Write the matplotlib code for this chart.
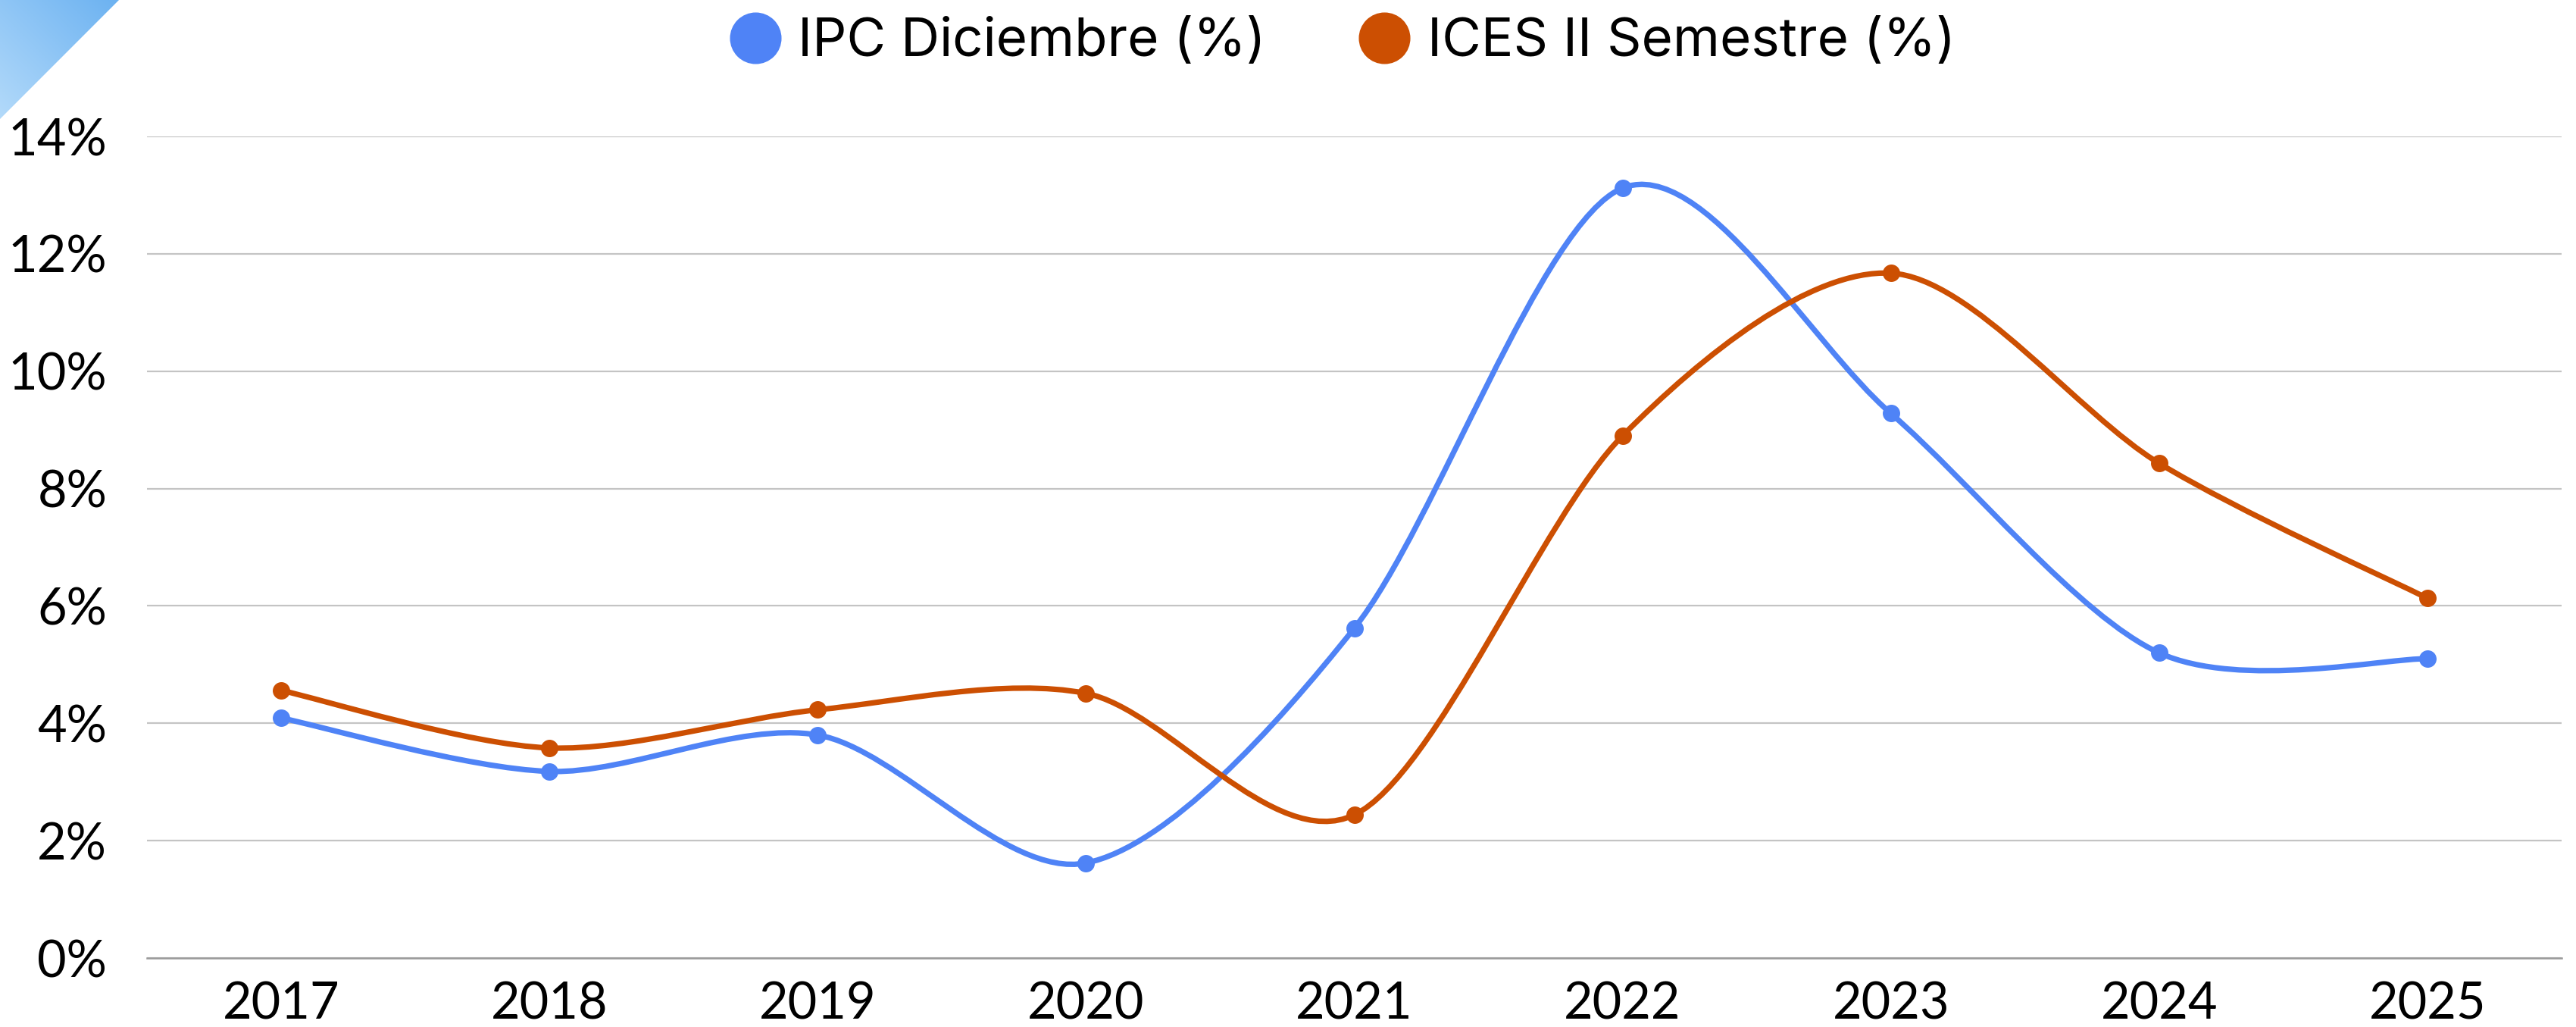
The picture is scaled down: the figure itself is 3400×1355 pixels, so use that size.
import numpy as np
import matplotlib.pyplot as plt
from matplotlib.path import Path
from matplotlib.patches import PathPatch, Polygon
from matplotlib.lines import Line2D

plt.rcParams['font.family'] = ['Lato', 'DejaVu Sans']

# data
years = ["2017", "2018", "2019", "2020", "2021", "2022", "2023", "2024", "2025"]
ipc = [4.09, 3.18, 3.80, 1.62, 5.62, 13.12, 9.28, 5.20, 5.10]
ices = [4.56, 3.58, 4.23, 4.51, 2.44, 8.90, 11.67, 8.43, 6.13]

labels = ["IPC Diciembre (%)", "ICES II Semestre (%)"]
colors = ["#4F83F6", "#CC4F02"]

yticks = [0, 2, 4, 6, 8, 10, 12, 14]


def smooth_path(x, y, k=0.15):
    # Catmull-Rom style cubic bezier through every point
    pts = np.column_stack([x, y]).astype(float)
    ext = np.vstack([pts[0], pts, pts[-1]])
    verts = [pts[0]]
    codes = [Path.MOVETO]
    for i in range(len(pts) - 1):
        p0, p1, p2, p3 = ext[i], ext[i + 1], ext[i + 2], ext[i + 3]
        c1 = p1 + (p2 - p0) * k
        c2 = p2 - (p3 - p1) * k
        verts += [c1, c2, p2]
        codes += [Path.CURVE4] * 3
    return Path(verts, codes)


fig = plt.figure(figsize=(34, 13.55), dpi=100)
ax = fig.add_axes([194 / 3400, 1 - 1264 / 1355, (3381 - 194) / 3400, (1264 - 180) / 1355])

x = np.arange(len(years))
for vals, col in zip([ipc, ices], colors):
    ax.add_patch(PathPatch(smooth_path(x, vals), facecolor="none", edgecolor=col,
                           lw=5.2, capstyle="round", joinstyle="round", zorder=3))
    ax.plot(x, vals, "o", color=col, markersize=15.5, zorder=4)

ax.set_xlim(-0.5, len(years) - 0.5)
ax.set_ylim(0, 14)
ax.set_xticks(x)
ax.set_xticklabels(years)
ax.set_yticks(yticks)
ax.set_yticklabels([f"{v}%" for v in yticks])
ax.tick_params(axis="both", length=0, labelsize=48, colors="black")
ax.tick_params(axis="y", pad=38)
ax.tick_params(axis="x", pad=22)
ax.grid(axis="y", color="#c4c4c4", lw=1.6)
ax.set_axisbelow(True)
for s in ["top", "right", "left"]:
    ax.spines[s].set_visible(False)
ax.spines["bottom"].set_color("#9a9a9a")
ax.spines["bottom"].set_linewidth(1.8)

handles = [Line2D([], [], ls="none", marker="o", markersize=48, color=c) for c in colors]
fig.legend(handles, labels, loc="center", bbox_to_anchor=(1771 / 3400, 1 - 56 / 1355),
           ncol=2, frameon=False, handletextpad=0.3, columnspacing=1.7,
           handlelength=1.0, prop={"family": ["Inter", "DejaVu Sans"], "size": 51})

# gradient triangle in the top-left corner
cax = fig.add_axes([0, 1 - 157 / 1355, 157 / 3400, 157 / 1355])
cax.set_axis_off()
grad = np.linspace(0, 1, 256)
g = (grad[None, :] + grad[::-1][:, None]) / 2
im = cax.imshow(g, cmap=plt.matplotlib.colors.LinearSegmentedColormap.from_list(
    "tri", ["#b3dafa", "#6cb2f1"]), extent=[0, 1, 0, 1], aspect="auto", origin="upper")
tri = Polygon([[0, 0], [0, 1], [1, 1]], closed=True, transform=cax.transAxes, facecolor="none", edgecolor="none")
cax.add_patch(tri)
im.set_clip_path(tri)

fig.savefig("out.png", dpi=100)
